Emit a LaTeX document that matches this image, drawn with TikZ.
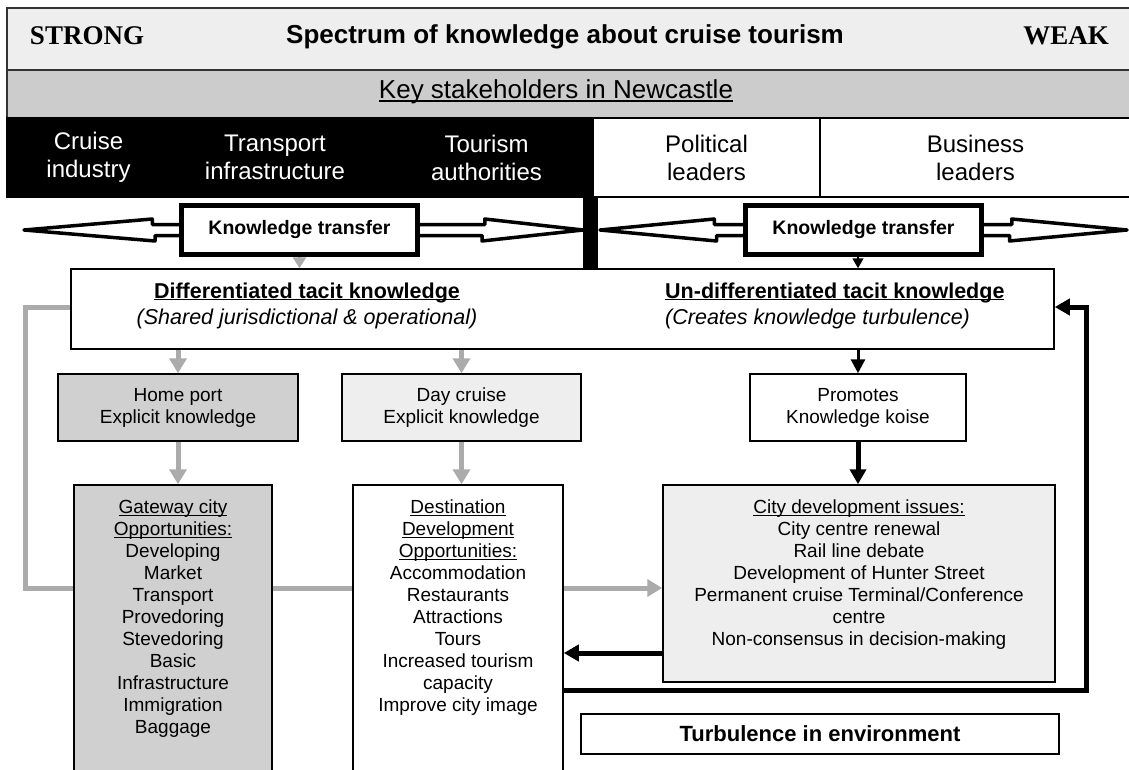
\documentclass[tikz,border=0pt]{standalone}
\usepackage{fontspec}
\setmainfont{Liberation Sans}
\newfontfamily\serifbf{Liberation Serif}
\usetikzlibrary{arrows.meta,backgrounds}
\definecolor{hdrgray}{HTML}{EEEEEE}
\definecolor{bandgray}{HTML}{CCCCCC}
\definecolor{boxgray}{HTML}{D0D0D0}
\definecolor{lightbox}{HTML}{EEEEEE}
\definecolor{linkgray}{HTML}{ABABAB}
\newcommand{\undl}[1]{\leavevmode\setbox0=\hbox{#1}\rlap{\rule[-0.11em]{\wd0}{0.07em}}\box0}
\tikzset{
  band/.style={draw=black!80, line width=1.5, inner sep=0, minimum width=1124},
  serifhead/.style={inner sep=0, font=\serifbf\bfseries\fontsize{27}{31}\selectfont},
  sanshead/.style={inner sep=0, font=\bfseries\fontsize{26}{30}\selectfont},
  keyhead/.style={inner sep=0, font=\fontsize{26}{30}\selectfont},
  stake/.style={draw=black, line width=1.5, inner sep=0, minimum height=79, align=center, font=\fontsize{24}{28}\selectfont},
  kbox/.style={draw=black, line width=4.5, fill=white, inner sep=0, minimum width=236, minimum height=49, font=\bfseries\fontsize{19.5}{23}\selectfont},
  hollow/.style={draw=black, line width=3.5, fill=white, line join=round},
  plain/.style={draw=black, line width=1.5, inner sep=0},
  body/.style={inner sep=0, align=center, font=\fontsize{19}{22}\selectfont},
  tacittxt/.style={inner sep=0, align=center, font=\fontsize{21.5}{26}\selectfont},
  greyline/.style={draw=linkgray, line width=5},
  greyarrow/.style={greyline, -{Triangle[width=17pt,length=15pt]}},
  greythin/.style={draw=linkgray, line width=3, -{Triangle[width=13pt,length=11pt]}},
  blackthin/.style={draw=black, line width=1.5, -{Triangle[width=11pt,length=10pt]}},
  blackmid/.style={draw=black, line width=3, -{Triangle[width=14pt,length=14pt]}},
  blackarrow/.style={draw=black, line width=5, -{Triangle[width=16pt,length=15pt]}}
}
\begin{document}
\begin{tikzpicture}[x=1pt,y=-1pt]
\useasboundingbox (0,0) rectangle (1129,770);

\node [band, fill=hdrgray, minimum height=62] (spectrum) at (569,39) {};
\node [band, fill=bandgray, minimum height=48] (keyband) at (569,94) {};
\node [serifhead] (strong) at (87,36) {STRONG};
\node [sanshead] (spectitle) at (565,37) {Spectrum of knowledge about cruise tourism};
\node [serifhead] (weak) at (1066,36) {WEAK};
\node [keyhead] (keytitle) at (556,92) {\undl{Key stakeholders in Newcastle}};

\node [stake, fill=black, text=white, minimum width=163] (cruise) at (88.5,157.5) {Cruise\\industry};
\node [stake, fill=black, text=white, minimum width=210] (transport) at (275,157.5) {Transport\\infrastructure};
\node [stake, fill=black, text=white, minimum width=213] (tourism) at (486.5,157.5) {Tourism\\authorities};
\node [stake, minimum width=227] (political) at (706.5,157.5) {Political\\leaders};
\node [stake, minimum width=311] (business) at (975.5,157.5) {Business\\leaders};

\node [fill=black, inner sep=0, minimum width=15, minimum height=72] (divider) at (590.5,233) {};

\node [kbox] (transferL) at (299.5,230) {Knowledge transfer};
\node [kbox] (transferR) at (863.5,230) {Knowledge transfer};
\coordinate (tipA) at (24,230);
\coordinate (tipB) at (583,230);
\coordinate (tipC) at (600,230);
\coordinate (tipD) at (1127,230);
\begin{scope}[on background layer]
\draw [hollow] (transferL.west) ++(0,-5.5) -- ++(-27,0) -- ++(0,-5.5) -- (tipA) -- ++(131,11) -- ++(0,-5.5) -- ++(27,0);
\draw [hollow] (transferL.east) ++(0,-5.5) -- ++(65,0) -- ++(0,-5.5) -- (tipB) -- ++(-101,11) -- ++(0,-5.5) -- ++(-65,0);
\draw [hollow] (transferR.west) ++(0,-5.5) -- ++(-29,0) -- ++(0,-5.5) -- (tipC) -- ++(116.5,11) -- ++(0,-5.5) -- ++(29,0);
\draw [hollow] (transferR.east) ++(0,-5.5) -- ++(28,0) -- ++(0,-5.5) -- (tipD) -- ++(-117.5,11) -- ++(0,-5.5) -- ++(-28,0);
\end{scope}

\node [plain, minimum width=983, minimum height=80] (tacit) at (562.5,309) {};
\node [tacittxt] (difftxt) at (307,305.5) {\textbf{\undl{Differentiated tacit knowledge}}\\\textit{(Shared jurisdictional \& operational)}};
\node [tacittxt, anchor=west, align=left] (undifftxt) at (665,305.5) {\textbf{\undl{Un-differentiated tacit knowledge}}\\\textit{(Creates knowledge turbulence)}};

\node [plain, body, fill=boxgray, minimum width=240, minimum height=67] (homeport) at (178,407.5) {Home port\\Explicit knowledge};
\node [plain, body, fill=lightbox, minimum width=239, minimum height=67] (daycruise) at (461.5,407.5) {Day cruise\\Explicit knowledge};
\node [plain, body, minimum width=216, minimum height=67] (promo) at (858,407.5) {Promotes\\Knowledge koise};

\node [plain, fill=boxgray, minimum width=198, minimum height=320] (gateway) at (173,645) {};
\node [plain, minimum width=210, minimum height=320] (destination) at (458,645) {};
\node [plain, fill=lightbox, minimum width=392, minimum height=197] (cityissues) at (859,583.5) {};
\node [body, anchor=north] (gatewaytxt) at (173,500) {\undl{Gateway city}\\\undl{Opportunities:}\\Developing\\Market\\Transport\\Provedoring\\Stevedoring\\Basic\\Infrastructure\\Immigration\\Baggage};
\node [body, anchor=north] (destinationtxt) at (458,500) {\undl{Destination}\\\undl{Development}\\\undl{Opportunities:}\\Accommodation\\Restaurants\\Attractions\\Tours\\Increased tourism\\capacity\\Improve city image};
\node [body, anchor=north] (citytxt) at (859,500) {\undl{City development issues:}\\City centre renewal\\Rail line debate\\Development of Hunter Street\\Permanent cruise Terminal/Conference\\centre\\Non-consensus in decision-making};
\node [plain, minimum width=478, minimum height=40, font=\bfseries\fontsize{22}{26}\selectfont] (turbulence) at (820,734) {Turbulence in environment};

\coordinate (loopL) at (25,307);
\coordinate (loopR) at (1086,307);
\coordinate (rowA) at (0,588);
\coordinate (rowB) at (0,653);
\coordinate (rowC) at (0,690);

\draw [greythin] (transferL.south) -- (transferL.south |- tacit.north);
\draw [blackthin] (transferR.south -| promo) -- (promo |- tacit.north);
\draw [greyarrow] (tacit.south -| homeport) -- (homeport.north);
\draw [greyarrow] (tacit.south -| daycruise) -- (daycruise.north);
\draw [blackmid] (tacit.south -| promo) -- (promo.north);
\draw [greyarrow] (homeport.south) -- (homeport.south |- gateway.north);
\draw [greyarrow] (daycruise.south) -- (daycruise.south |- destination.north);
\draw [blackarrow] (promo.south) -- (promo.south |- cityissues.north);
\draw [greyline] (tacit.west |- loopL) -- (loopL) |- (gateway.west |- rowA);
\draw [greyline] (gateway.east |- rowA) -- (destination.west |- rowA);
\draw [greyarrow] (destination.east |- rowA) -- (cityissues.west |- rowA);
\draw [blackarrow] (cityissues.west |- rowB) -- (destination.east |- rowB);
\draw [blackarrow] (destination.east |- rowC) -| (loopR) -- (tacit.east |- loopR);
\end{tikzpicture}
\end{document}
